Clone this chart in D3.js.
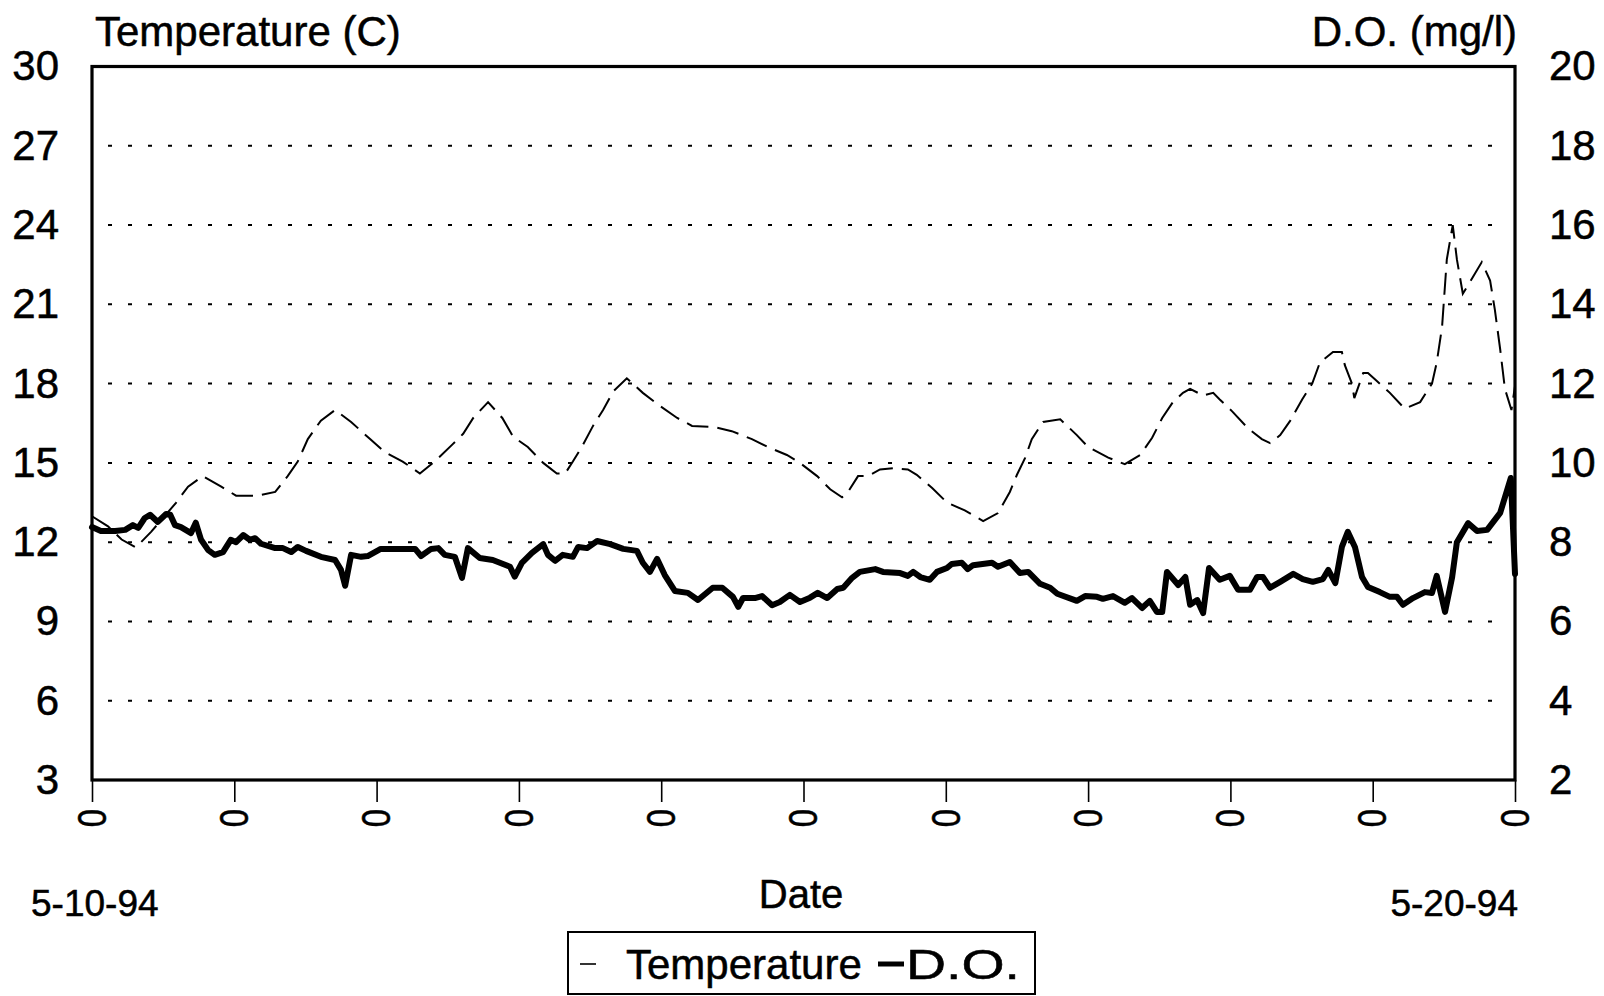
<!DOCTYPE html>
<html>
<head>
<meta charset="utf-8">
<script src="https://cdn.jsdelivr.net/npm/d3@7/dist/d3.min.js"></script>
<style>
  html, body { margin: 0; padding: 0; background: #fff; }
  svg { display: block; }
  text { font-family: "Liberation Sans", Arial, Helvetica, sans-serif; fill: #000; stroke: #000; stroke-width: 0.5px; }
</style>
</head>
<body>
<svg id="chart" width="1604" height="996"></svg>
<script>
// Hourly-ish readings from 5-10-94 (hour 0) to 5-20-94 (hour 240)
const tempHours = [0, 2.7, 5, 7.4, 10, 12.3, 14.2, 16.2, 18.7, 21.8, 24.3, 28, 30.9, 33, 34.7, 36.4, 38.6, 41, 43.7, 46.9,
  49.4, 52.4, 55.3, 57.8, 60.8, 62.6, 64.3, 66.8, 69.2, 71, 73.5, 76.1, 78.4, 79.8, 81.1, 82.6, 84.5, 86.2, 87.9, 90.2,
  92.9, 95.5, 98.7, 101.2, 105.1, 107.9, 111.3, 114, 117.2, 119.4, 122.3, 124.5, 126.5, 127.5, 129.2, 130.9, 132.9, 135.4, 137.6, 139.1,
  141.7, 144.2, 147.2, 150.3, 152.8, 154.8, 156, 157.4, 158.5, 160.4, 163.3, 166.1, 168, 171.4, 174.2, 176.8, 178.8, 180.5, 182.3, 184,
  185.2, 187.4, 189.1, 190.2, 192.3, 195, 197.3, 198.7, 200.4, 202.1, 204.1, 205.8, 207.1, 209.3, 210.8, 211.3, 212.5, 212.9, 214.4, 215.2,
  216.7, 218.9, 221.4, 224, 226, 226.8, 227.7, 228.5, 229.5, 230.2, 231.2, 232.8, 234.4, 235.8, 236.6, 237.5, 238.3, 239.4, 240];
const tempValues = [12.98, 12.6, 12.1, 11.8, 12.4, 13.0, 13.5, 14.1, 14.5, 14.1, 13.76, 13.76, 13.9, 14.5, 15.05, 15.9, 16.6, 17.0, 16.55, 15.9,
  15.4, 15.05, 14.6, 15.05, 15.7, 16.1, 16.7, 17.3, 16.7, 16.0, 15.6, 15.0, 14.6, 14.6, 15.05, 15.6, 16.4, 17.0, 17.7, 18.2,
  17.65, 17.2, 16.7, 16.4, 16.35, 16.2, 15.9, 15.6, 15.3, 15.0, 14.5, 14.0, 13.7, 13.9, 14.5, 14.5, 14.75, 14.8, 14.75, 14.55,
  14.05, 13.5, 13.2, 12.8, 13.1, 13.9, 14.55, 15.2, 15.9, 16.55, 16.65, 16.05, 15.6, 15.2, 14.95, 15.3, 15.95, 16.7, 17.3, 17.65,
  17.8, 17.55, 17.65, 17.4, 16.95, 16.3, 15.9, 15.75, 16.05, 16.6, 17.4, 18.0, 18.8, 19.2, 19.2, 18.7, 18.0, 17.45, 18.4, 18.4,
  18.1, 17.65, 17.05, 17.3, 18.0, 18.8, 20.15, 22.7, 24.0, 22.7, 21.4, 22.0, 22.6, 21.9, 20.8, 19.3, 17.8, 17.0, 17.9];

const doHours = [0, 1.5, 3.9, 5.6, 6.9, 7.8, 8.9, 9.8, 11.1, 12.5, 13.2, 14, 15, 16.7, 17.5, 18.4, 19.6, 20.7, 22.1, 23.4,
  24.3, 25.5, 26.6, 27.5, 28.5, 30.9, 32.2, 33.6, 34.7, 36.1, 38.6, 41, 42, 42.7, 43.7, 45.4, 46.5, 48.7, 51.6, 54.5,
  55.5, 57.2, 58.4, 59.5, 61.2, 62.4, 63.4, 65.4, 67.6, 70.5, 71.3, 72.5, 74.2, 76.1, 76.9, 78.1, 79.4, 81.1, 82, 83.5,
  85.2, 87.4, 89.6, 91.9, 92.9, 94.1, 95.3, 96.6, 98.3, 100.5, 102.2, 104.7, 106.3, 108.1, 109, 109.8, 111.8, 113, 114.7, 116,
  117.7, 119.4, 121.1, 122.4, 124, 125.7, 126.7, 128.2, 129.5, 132.1, 133.4, 136.3, 137.6, 138.5, 139.7, 141.3, 142.5, 144.2, 145, 146.7,
  147.7, 148.6, 151.8, 152.8, 154.8, 156.5, 157.9, 159.9, 161.6, 162.8, 166.1, 167.5, 169.5, 170.5, 172.2, 174.2, 175.4, 177.1, 178.4, 179.6,
  180.5, 181.3, 183.2, 184.4, 185.2, 186.4, 187.4, 188.4, 190.2, 191.9, 193.3, 195.3, 196.5, 197.5, 198.7, 200.4, 202.6, 204.2, 205.9, 207.6,
  208.5, 209.7, 210.8, 211.8, 213, 214.2, 215.2, 217.2, 218.9, 220.1, 221.1, 222.8, 224.8, 226, 226.8, 228.2, 229.4, 230.2, 232.1, 233.6,
  235.3, 237.5, 239.3, 240];
const doValues = [8.38, 8.28, 8.28, 8.31, 8.43, 8.36, 8.61, 8.69, 8.51, 8.71, 8.69, 8.43, 8.38, 8.23, 8.49, 8.06, 7.8, 7.68, 7.75, 8.06,
  8.0, 8.18, 8.06, 8.1, 7.96, 7.85, 7.85, 7.75, 7.88, 7.78, 7.63, 7.55, 7.3, 6.9, 7.68, 7.63, 7.65, 7.83, 7.83, 7.83,
  7.65, 7.83, 7.85, 7.68, 7.63, 7.1, 7.85, 7.6, 7.55, 7.38, 7.13, 7.48, 7.73, 7.95, 7.68, 7.53, 7.68, 7.63, 7.88, 7.85,
  8.03, 7.95, 7.83, 7.78, 7.48, 7.25, 7.58, 7.17, 6.77, 6.72, 6.54, 6.85, 6.85, 6.62, 6.37, 6.59, 6.59, 6.64, 6.41, 6.49,
  6.67, 6.49, 6.6, 6.72, 6.59, 6.82, 6.85, 7.1, 7.25, 7.32, 7.25, 7.22, 7.15, 7.25, 7.12, 7.05, 7.25, 7.35, 7.45, 7.48,
  7.32, 7.42, 7.48, 7.38, 7.5, 7.22, 7.25, 6.95, 6.85, 6.7, 6.52, 6.64, 6.62, 6.57, 6.64, 6.47, 6.59, 6.34, 6.52, 6.24,
  6.24, 7.25, 6.92, 7.12, 6.42, 6.54, 6.21, 7.35, 7.05, 7.15, 6.8, 6.8, 7.12, 7.12, 6.85, 7.0, 7.2, 7.07, 7.0, 7.07,
  7.3, 6.97, 7.88, 8.26, 7.88, 7.12, 6.87, 6.74, 6.62, 6.62, 6.42, 6.59, 6.74, 6.72, 7.15, 6.24, 7.12, 8.0, 8.48, 8.28,
  8.31, 8.74, 9.62, 7.2];

const tempTicks = [3, 6, 9, 12, 15, 18, 21, 24, 27, 30];
const doTicks = [2, 4, 6, 8, 10, 12, 14, 16, 18, 20];
const dayTicks = [0, 24, 48, 72, 96, 120, 144, 168, 192, 216, 240];
const gridTemps = [6, 9, 12, 15, 18, 21, 24, 27];

const svg = d3.select("#chart");
const L = 92, R = 1515, T = 66.5, B = 780;

const x = d3.scaleLinear().domain([0, 240]).range([L, R]);
const yT = d3.scaleLinear().domain([3, 30]).range([B, T]);
const yD = d3.scaleLinear().domain([2, 20]).range([B, T]);

// dotted horizontal grid
svg.append("g").selectAll("line").data(gridTemps).join("line")
  .attr("x1", L + 16).attr("x2", R - 10)
  .attr("y1", d => yT(d)).attr("y2", d => yT(d))
  .attr("stroke", "#000").attr("stroke-width", 2)
  .attr("stroke-dasharray", "4 16");

// left axis labels
const leftAxis = svg.append("g").attr("transform", `translate(${L},0)`)
  .call(d3.axisLeft(yT).tickValues(tempTicks).tickSize(0).tickPadding(33));
leftAxis.select(".domain").remove();
leftAxis.selectAll("text").style("font-size", "42px")
  .style("font-family", "'Liberation Sans', Arial, sans-serif");

// right axis labels
const rightAxis = svg.append("g").attr("transform", `translate(${R},0)`)
  .call(d3.axisRight(yD).tickValues(doTicks).tickSize(0).tickPadding(34));
rightAxis.select(".domain").remove();
rightAxis.selectAll("text").style("font-size", "42px")
  .style("font-family", "'Liberation Sans', Arial, sans-serif");

// bottom axis: tick marks with sideways "0" labels
const bottomAxis = svg.append("g").attr("transform", `translate(0,${B})`)
  .call(d3.axisBottom(x).tickValues(dayTicks).tickSize(22).tickFormat(() => "0"));
bottomAxis.select(".domain").remove();
bottomAxis.selectAll(".tick line").attr("stroke", "#000").attr("stroke-width", 1.6);
bottomAxis.selectAll("text")
  .attr("y", 0).attr("dy", "0.36em")
  .attr("transform", "translate(0,38) rotate(90) scale(0.8,1)")
  .attr("text-anchor", "middle")
  .style("font-size", "41px")
  .style("font-family", "'Liberation Sans', Arial, sans-serif");

// plot frame
svg.append("rect")
  .attr("x", L).attr("y", T).attr("width", R - L).attr("height", B - T)
  .attr("fill", "none").attr("stroke", "#000").attr("stroke-width", 3.2);

// temperature series (thin dashed)
const tempLine = d3.line().x((d, i) => x(tempHours[i])).y(d => yT(d)).curve(d3.curveLinear);
svg.append("path").datum(tempValues)
  .attr("d", tempLine)
  .attr("fill", "none").attr("stroke", "#000").attr("stroke-width", 2)
  .attr("stroke-dasharray", "22 9");

// dissolved oxygen series (heavy)
const doLine = d3.line().x((d, i) => x(doHours[i])).y(d => yD(d));
svg.append("path").datum(doValues)
  .attr("d", doLine)
  .attr("fill", "none").attr("stroke", "#000").attr("stroke-width", 6)
  .attr("stroke-linejoin", "round").attr("stroke-linecap", "round");

// axis titles
svg.append("text").attr("x", 95).attr("y", 46).style("font-size", "42px").text("Temperature (C)");
svg.append("text").attr("x", 1517).attr("y", 46).attr("text-anchor", "end").style("font-size", "42px").text("D.O. (mg/l)");
svg.append("text").attr("x", 801).attr("y", 908).attr("text-anchor", "middle").style("font-size", "40px").text("Date");
svg.append("text").attr("x", 31).attr("y", 916).style("font-size", "37px").text("5-10-94");
svg.append("text").attr("x", 1518).attr("y", 916).attr("text-anchor", "end").style("font-size", "37px").text("5-20-94");

// legend
const lg = svg.append("g");
lg.append("rect").attr("x", 568).attr("y", 932).attr("width", 467).attr("height", 62)
  .attr("fill", "#fff").attr("stroke", "#000").attr("stroke-width", 2);
lg.append("line").attr("x1", 580).attr("x2", 596).attr("y1", 964).attr("y2", 964)
  .attr("stroke", "#000").attr("stroke-width", 1.6);
lg.append("text").attr("x", 626).attr("y", 979).style("font-size", "42px").text("Temperature");
lg.append("line").attr("x1", 878).attr("x2", 904).attr("y1", 964).attr("y2", 964)
  .attr("stroke", "#000").attr("stroke-width", 5);
lg.append("text").attr("x", 906).attr("y", 979).style("font-size", "42px")
  .attr("textLength", 114).attr("lengthAdjust", "spacingAndGlyphs").text("D.O.");
</script>
</body>
</html>
